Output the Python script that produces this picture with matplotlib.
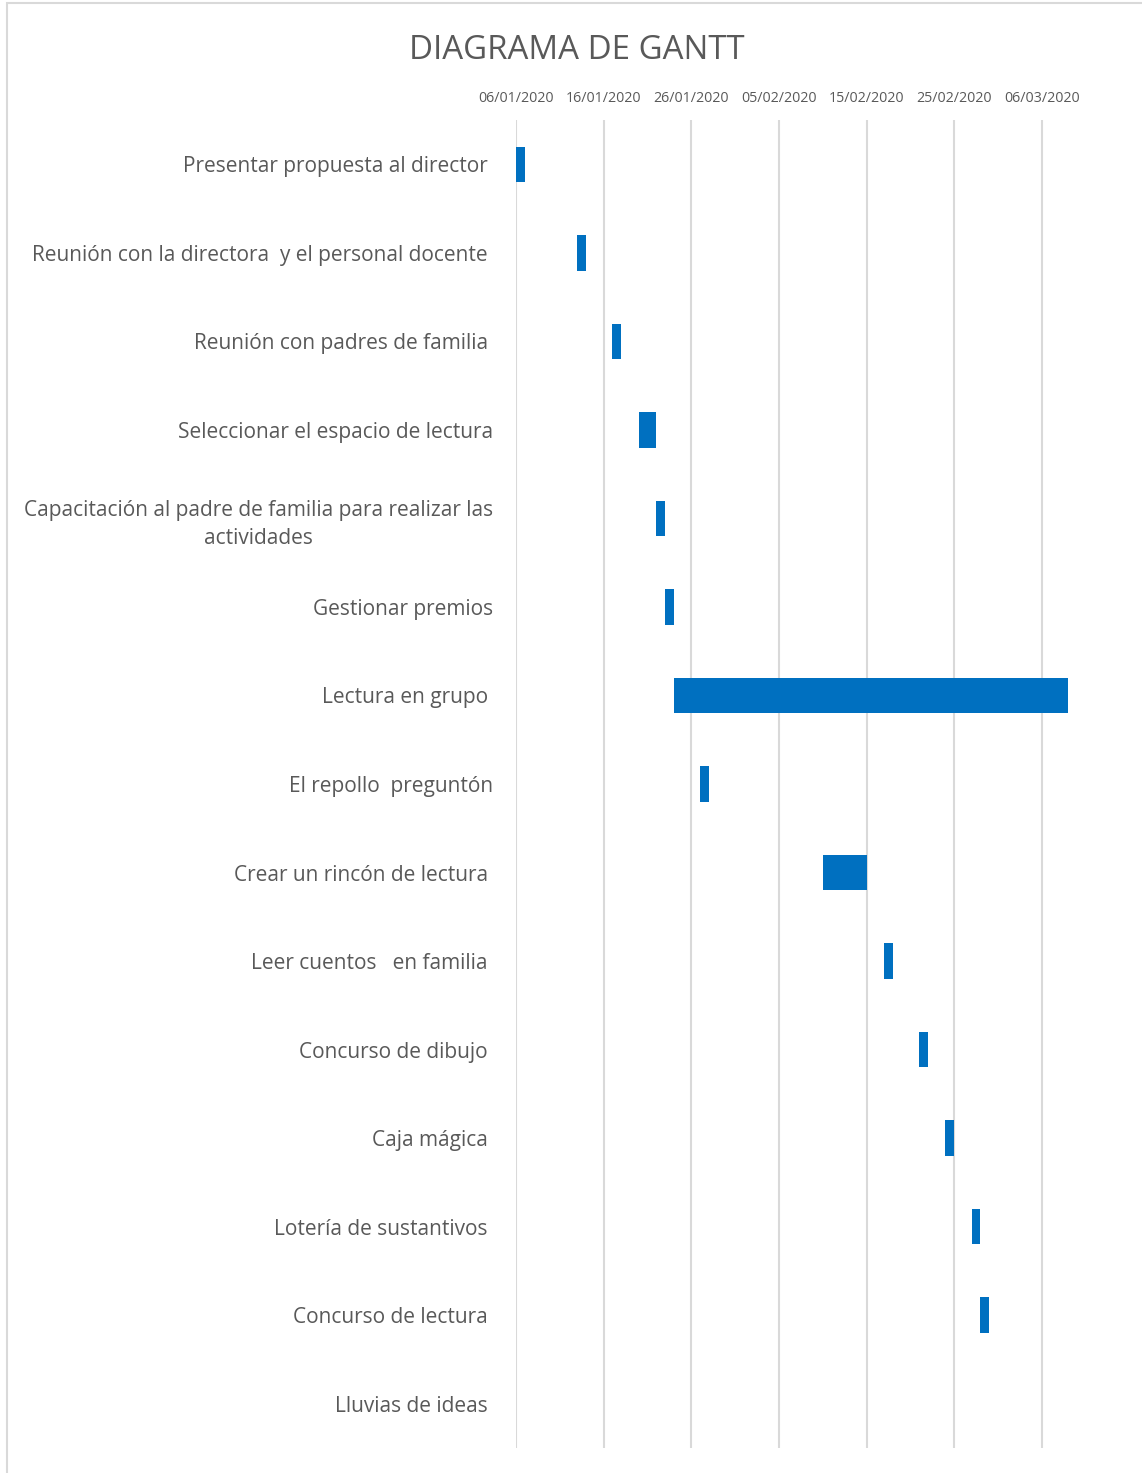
import datetime as dt
import matplotlib
matplotlib.use("Agg")
import matplotlib.pyplot as plt
import matplotlib.dates as mdates
from matplotlib.patches import Rectangle

# tasks, top to bottom
tareas = [
    "Presentar propuesta al director ",
    "Reunión con la directora  y el personal docente ",
    "Reunión con padres de familia ",
    "Seleccionar el espacio de lectura",
    "Capacitación al padre de familia para realizar las\nactividades",
    "Gestionar premios",
    "Lectura en grupo ",
    "El repollo  preguntón",
    "Crear un rincón de lectura ",
    "Leer cuentos   en familia ",
    "Concurso de dibujo ",
    "Caja mágica ",
    "Lotería de sustantivos ",
    "Concurso de lectura ",
    "Lluvias de ideas ",
]
inicio = ["06/01/2020", "13/01/2020", "17/01/2020", "20/01/2020", "22/01/2020",
          "23/01/2020", "24/01/2020", "27/01/2020", "10/02/2020", "17/02/2020",
          "21/02/2020", "24/02/2020", "27/02/2020", "28/02/2020", "02/03/2020"]
duracion = [1, 1, 1, 2, 1, 1, 45, 1, 5, 1, 1, 1, 1, 1, 0]

tick_dates = ["06/01/2020", "16/01/2020", "26/01/2020", "05/02/2020",
              "15/02/2020", "25/02/2020", "06/03/2020"]
eje_min = "06/01/2020"
eje_max = "10/03/2020"

def d(s):
    return mdates.date2num(dt.datetime.strptime(s, "%d/%m/%Y"))

gris = "#595959"
azul = "#0070C0"
plt.rcParams['font.family'] = ['Open Sans', 'DejaVu Sans']

fig = plt.figure(figsize=(11.42, 14.73), dpi=100)
ax = fig.add_axes([0.4518, 0.017, 0.943 - 0.4518, 0.9185 - 0.017])

y = list(range(len(tareas)))
ax.barh(y, duracion, left=[d(s) for s in inicio], height=0.4, color=azul)

ax.set_ylim(len(tareas) - 0.5, -0.5)
ax.set_xlim(d(eje_min), d(eje_max))
ax.set_xticks([d(s) for s in tick_dates])
ax.set_xticklabels(tick_dates)
ax.xaxis.tick_top()
ax.tick_params(axis='x', length=0, pad=10, labelsize=10.3, labelcolor=gris)
ax.set_yticks(y)
ax.set_yticklabels(tareas, multialignment='center', linespacing=1.45)
ax.tick_params(axis='y', length=0, pad=16.5, labelsize=15, labelcolor=gris)
ax.grid(axis='x', color='#D9D9D9', linewidth=1.5)
ax.set_axisbelow(True)
for s in ax.spines.values():
    s.set_visible(False)

fig.text(0.505, 0.966, "DIAGRAMA DE GANTT", ha='center', va='center',
         fontsize=23.8, color=gris)

# chart area border
fig.patches.append(Rectangle((0.006, -0.01), 1.2, 1.008, transform=fig.transFigure,
                             fill=False, edgecolor='#D9D9D9', linewidth=1.5))

fig.savefig("out.png", dpi=100)
